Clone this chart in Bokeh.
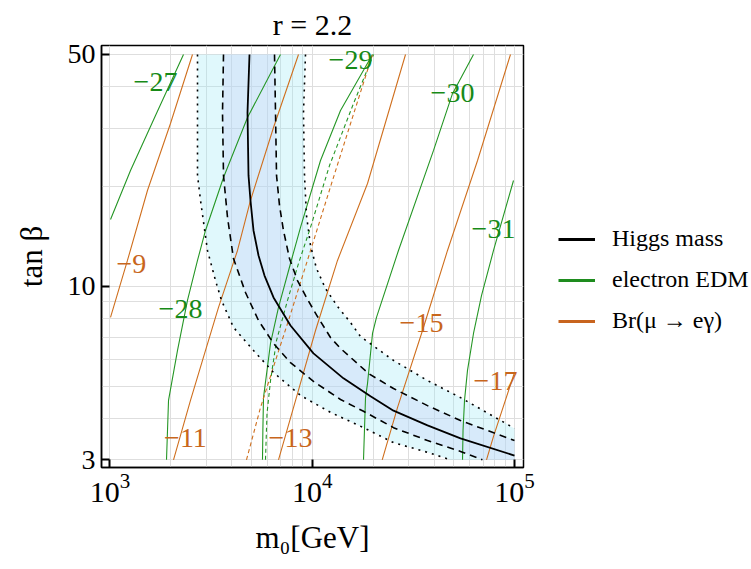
import math
from bokeh.plotting import figure
from bokeh.models import (Range1d, FixedTicker, ColumnDataSource, PrintfTickFormatter,
                          Legend, LegendItem)
from bokeh.core.properties import value
from bokeh.embed import file_html
from bokeh.resources import INLINE

FONT = "Liberation Serif"

# ---------------- data (m0 [GeV], tan beta) ----------------
# Higgs mass: central, +-1 sigma (dashed), +-2 sigma (dotted)
higgs_m0 = [4895, 4785, 4840, 4950, 5123, 5424, 5806, 6434, 7806, 10140, 14270, 19410, 25220, 37140, 54080, 100000]
higgs_tb = [50, 33.4, 21.6, 18.15, 14.74, 12.39, 10.78, 9.26, 7.62, 6.28, 5.28, 4.66, 4.22, 3.81, 3.48, 3.09]

higgs_lo1_m0 = [3641, 3600, 3641, 3811, 4079, 4677, 5424, 6434, 7806, 10140, 13795, 17925, 25220, 37140, 54080, 69400]
higgs_lo1_tb = [50, 33.4, 21.6, 16.13, 12.13, 9.58, 7.89, 6.73, 5.89, 5.17, 4.56, 4.20, 3.75, 3.43, 3.18, 3.0]

higgs_hi1_m0 = [6508, 6583, 6659, 6888, 7206, 7718, 8455, 9474, 10617, 12310, 13795, 16740, 18970, 25220, 37140, 54080, 100000]
higgs_hi1_tb = [50, 33.4, 21.6, 17.53, 14.74, 12.13, 10.41, 9.13, 8.11, 7.01, 6.50, 5.85, 5.46, 4.92, 4.37, 3.94, 3.43]

higgs_lo2_m0 = [2708, 2708, 2708, 2803, 3034, 3324, 3559, 4079, 5123, 6434, 8749, 12310, 17925, 25220, 37140, 48270]
higgs_lo2_tb = [50, 33.4, 21.6, 18.15, 12.83, 10.41, 9.07, 7.52, 6.41, 5.50, 4.69, 4.17, 3.75, 3.38, 3.16, 3.0]

higgs_hi2_m0 = [9261, 9052, 9156, 9367, 9802, 10495, 11630, 13330, 15455, 17320, 25220, 37140, 54080, 100000]
higgs_hi2_tb = [50, 33.4, 21.6, 16.35, 13.28, 11.32, 9.85, 8.70, 7.78, 7.06, 5.98, 5.20, 4.62, 3.73]

# electron EDM contours (log10 d_e = -27 ... -31)
edm_m27_m0 = [1006, 1263, 1679, 2309]
edm_m27_tb = [15.9, 22.36, 32.74, 50]
edm_m28_m0 = [1903, 1947, 2157, 2416, 2708, 2966, 3641, 4785, 6966]
edm_m28_tb = [3, 4.53, 6.41, 9.07, 11.97, 14.74, 21.29, 32.29, 50]
edm_m29_m0 = [5675, 5700, 5741, 6218, 6810, 7806, 8749, 10986, 13795, 19860]
edm_m29_tb = [3, 3.68, 4.62, 6.73, 8.64, 11.72, 15.05, 23.96, 33.9, 50]
edm_m30_m0 = [17925, 18340, 18760, 19860, 20780, 26690, 39780, 49360, 62700]
edm_m30_tb = [3, 4.62, 5.09, 7.21, 8.06, 12.83, 25.7, 38.1, 50]
edm_m31_m0 = [55340, 55660, 56610, 58560, 62700, 68680, 78750, 98880]
edm_m31_tb = [3, 3.68, 4.53, 5.58, 7.21, 9.38, 12.83, 20.85]
edm_dash_m0 = [5873, 5975, 6218, 6659, 7545, 8551, 9802, 12170, 16000, 20100]
edm_dash_tb = [3, 4.14, 5.20, 6.87, 9.07, 11.72, 15.05, 23.13, 35.6, 50]

# Br(mu -> e gamma) contours (log10 Br = -9 ... -17)
br_m9_m0 = [1006, 1220, 1532, 1991, 2558]
br_m9_tb = [8.06, 11.97, 19.45, 30.97, 50]
br_m11_m0 = [2061, 2500, 2867, 3440, 4270, 4950, 6434, 8551]
br_m11_tb = [3, 4.53, 5.98, 8.64, 12.83, 18.15, 30.12, 50]
br_m13_m0 = [6810, 8455, 10380, 13330, 18760, 28920]
br_m13_tb = [3, 4.75, 7.36, 11.97, 20.42, 50]
br_m15_m0 = [22180, 26390, 35090, 46640, 65660, 95540]
br_m15_tb = [3, 4.31, 7.36, 12.83, 23.96, 50]
br_m17_m0 = [72710, 78750, 100000]
br_m17_tb = [3, 3.53, 5.50]
br_dash_m0 = [4730, 5548, 6583, 7718, 9915, 12450, 15810, 19860]
br_dash_tb = [3, 4.31, 5.98, 8.06, 13.1, 20.4, 32.3, 50]

# contour labels
edm_label_m0 = [1679, 2232, 15455, 49360, 78750]
edm_label_tb = [41.2, 8.52, 47.97, 38.4, 14.84]
edm_label_txt = ["\u221227", "\u221228", "\u221229", "\u221230", "\u221231"]
br_label_m0 = [1277, 2362, 7806, 34690, 80550]
br_label_tb = [11.64, 3.48, 3.48, 7.78, 5.17]
br_label_txt = ["\u22129", "\u221211", "\u221213", "\u221215", "\u221217"]

legend_labels = ["Higgs mass", "electron EDM", "Br(\u03bc \u2192 e\u03b3)"]

x_ticks = [1000, 10000, 100000]
y_ticks = [3, 10, 50]
grid_x = [a * 10 ** k for k in (3, 4) for a in range(1, 10)] + [100000]
grid_y = [3, 4, 5, 6, 7, 8, 9, 10, 20, 30, 40, 50]

M0_MAX = 100000
TB_MIN = 3

# ---------------- figure geometry ----------------
FL, FT, FW, FH = 101, 45, 422, 422
XLO, XHI = 10 ** 2.958, 10 ** 5.0445
YLO, YHI = 10 ** 0.4539, 10 ** 1.7261

p = figure(x_axis_type="log", y_axis_type="log",
           x_range=Range1d(XLO, XHI), y_range=Range1d(YLO, YHI),
           frame_width=FW, frame_height=FH,
           min_border_left=FL, min_border_right=751 - FL - FW,
           min_border_top=FT, min_border_bottom=569 - FT - FH,
           output_backend="svg", toolbar_location=None)
p.background_fill_color = "white"
p.border_fill_color = "white"
p.outline_line_color = "black"
p.outline_line_width = 1.5

p.title.text = "r = 2.2"
p.title.text_font = FONT
p.title.text_font_size = "30px"
p.title.text_font_style = "normal"
p.title.text_color = "black"
p.title.align = "center"
p.title.standoff = 10

p.xaxis.ticker = FixedTicker(ticks=x_ticks)
p.yaxis.ticker = FixedTicker(ticks=y_ticks)
p.yaxis.formatter = PrintfTickFormatter(format="%d")
for ax in (p.xaxis, p.yaxis):
    ax.major_tick_in = 8
    ax.major_tick_out = 0
    ax.major_tick_line_width = 2
    ax.minor_tick_line_color = None
    ax.axis_line_width = 1.5
    ax.major_label_text_font = FONT
    ax.major_label_text_color = "black"
    ax.axis_label_text_font = FONT
    ax.axis_label_text_font_style = "normal"
    ax.axis_label_text_font_size = "31px"
    ax.axis_label_text_color = "black"
p.yaxis.major_label_text_font_size = "28px"
p.xaxis.major_label_text_font_size = "30px"
p.yaxis.major_label_standoff = 6
p.xaxis.major_label_standoff = 6
p.xaxis.axis_label = "m\u2080[GeV]"
p.yaxis.axis_label = "tan \u03b2"
p.xaxis.axis_label_standoff = 15
p.yaxis.axis_label_standoff = 16

p.xgrid.ticker = FixedTicker(ticks=grid_x)
p.ygrid.ticker = FixedTicker(ticks=grid_y)
for g in (p.xgrid, p.ygrid):
    g.grid_line_color = "#dedede"
    g.grid_line_width = 1

# ---------------- bands ----------------
band2_x = higgs_lo2_m0 + [M0_MAX] + higgs_hi2_m0[::-1]
band2_y = higgs_lo2_tb + [TB_MIN] + higgs_hi2_tb[::-1]
band1_x = higgs_lo1_m0 + [M0_MAX] + higgs_hi1_m0[::-1]
band1_y = higgs_lo1_tb + [TB_MIN] + higgs_hi1_tb[::-1]
p.patch(band2_x, band2_y, fill_color=(152, 232, 245), fill_alpha=0.3, line_color=None)
p.patch(band1_x, band1_y, fill_color=(197, 201, 245), fill_alpha=0.3, line_color=None)

GREEN = "#259625"
ORANGE = "#cf6f1e"
GREEN_T = "#178a17"
ORANGE_T = "#c8661c"

for xs, ys in [(edm_m27_m0, edm_m27_tb), (edm_m28_m0, edm_m28_tb), (edm_m29_m0, edm_m29_tb),
               (edm_m30_m0, edm_m30_tb), (edm_m31_m0, edm_m31_tb)]:
    p.line(xs, ys, line_color=GREEN, line_width=1.1)
p.line(edm_dash_m0, edm_dash_tb, line_color=GREEN, line_width=1.1, line_dash="4 3")

for xs, ys in [(br_m9_m0, br_m9_tb), (br_m11_m0, br_m11_tb), (br_m13_m0, br_m13_tb),
               (br_m15_m0, br_m15_tb), (br_m17_m0, br_m17_tb)]:
    p.line(xs, ys, line_color=ORANGE, line_width=1.1)
p.line(br_dash_m0, br_dash_tb, line_color=ORANGE, line_width=1.1, line_dash="4 3")

p.line(higgs_lo2_m0, higgs_lo2_tb, line_color="black", line_width=1.6, line_dash="2 5")
p.line(higgs_hi2_m0, higgs_hi2_tb, line_color="black", line_width=1.6, line_dash="2 5")
p.line(higgs_lo1_m0, higgs_lo1_tb, line_color="black", line_width=1.6, line_dash="7 5")
p.line(higgs_hi1_m0, higgs_hi1_tb, line_color="black", line_width=1.6, line_dash="7 5")
p.line(higgs_m0, higgs_tb, line_color="black", line_width=1.8)

# contour labels
src_e = ColumnDataSource(dict(x=edm_label_m0, y=edm_label_tb, t=edm_label_txt))
src_b = ColumnDataSource(dict(x=br_label_m0, y=br_label_tb, t=br_label_txt))
p.text(x="x", y="y", text="t", source=src_e, text_font=value(FONT), text_font_size=value("28px"),
       text_align="center", text_baseline="middle", text_color=GREEN_T)
p.text(x="x", y="y", text="t", source=src_b, text_font=value(FONT), text_font_size=value("28px"),
       text_align="center", text_baseline="middle", text_color=ORANGE_T)

# legend (invisible stand-in renderers carry the thicker legend line style)
leg_r = [p.line([math.nan], [math.nan], line_color=c, line_width=3)
         for c in ("black", "#1e8c1e", "#c8641e")]
legend = Legend(items=[LegendItem(label=t, renderers=[r]) for t, r in zip(legend_labels, leg_r)],
                location=(35, 133), orientation="vertical",
                glyph_width=37, glyph_height=24, label_height=24, label_standoff=17,
                label_text_font=FONT, label_text_font_size="24px", label_text_color="black",
                spacing=14, padding=0, margin=0, border_line_color=None, background_fill_alpha=0)
p.add_layout(legend, "right")

open("out.html", "w").write(file_html(p, INLINE))
